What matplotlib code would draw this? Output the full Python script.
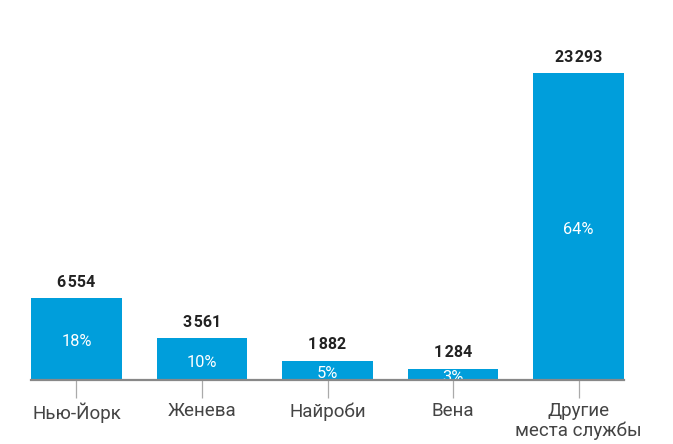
import matplotlib
matplotlib.use("Agg")
import matplotlib.pyplot as plt

categories = ["Нью-Йорк", "Женева", "Найроби", "Вена", "Другие\nместа службы"]
values = [6554, 3561, 1882, 1284, 23293]
value_labels = ["6\u200a554", "3\u200a561", "1\u200a882", "1\u200a284", "23\u200a293"]
percents = ["18%", "10%", "5%", "3%", "64%"]

plt.rcParams['font.family'] = ['Roboto', 'DejaVu Sans']

W, H = 673, 444
fig = plt.figure(figsize=(W / 100, H / 100), dpi=100)
ax = fig.add_axes([31 / W, (H - 380) / H, (624 - 31) / W, (380 - 73) / H])

blue = "#009EDB"
x = list(range(len(categories)))
bw = 0.725
ax.bar(x, values, width=bw, color=blue, zorder=2)
ax.set_xlim(-bw / 2, len(categories) - 1 + bw / 2)
ax.set_ylim(446, max(values))

for xi, v, vl, p in zip(x, values, value_labels, percents):
    ax.annotate(vl, (xi, v), xytext=(0, 6), textcoords="offset points",
                ha="center", va="bottom", fontsize=11.5, fontweight="bold",
                color="#222222", annotation_clip=False)
    ax.text(xi, v / 2, p, ha="center", va="center", fontsize=11.8,
            color="white", fontweight="normal", clip_on=False, zorder=3)

for s in ["top", "right", "left"]:
    ax.spines[s].set_visible(False)
ax.spines["bottom"].set_color("#888888")
ax.spines["bottom"].set_linewidth(1.6)
ax.spines["bottom"].set_zorder(5)
ax.set_yticks([])
ax.set_xticks(x)
ax.set_xticklabels(categories, fontsize=13.5, color="#444444", linespacing=1.12)
ax.tick_params(axis="x", length=13, width=0.9, color="#aaaaaa", pad=3)

fig.savefig("out.png", dpi=100)
